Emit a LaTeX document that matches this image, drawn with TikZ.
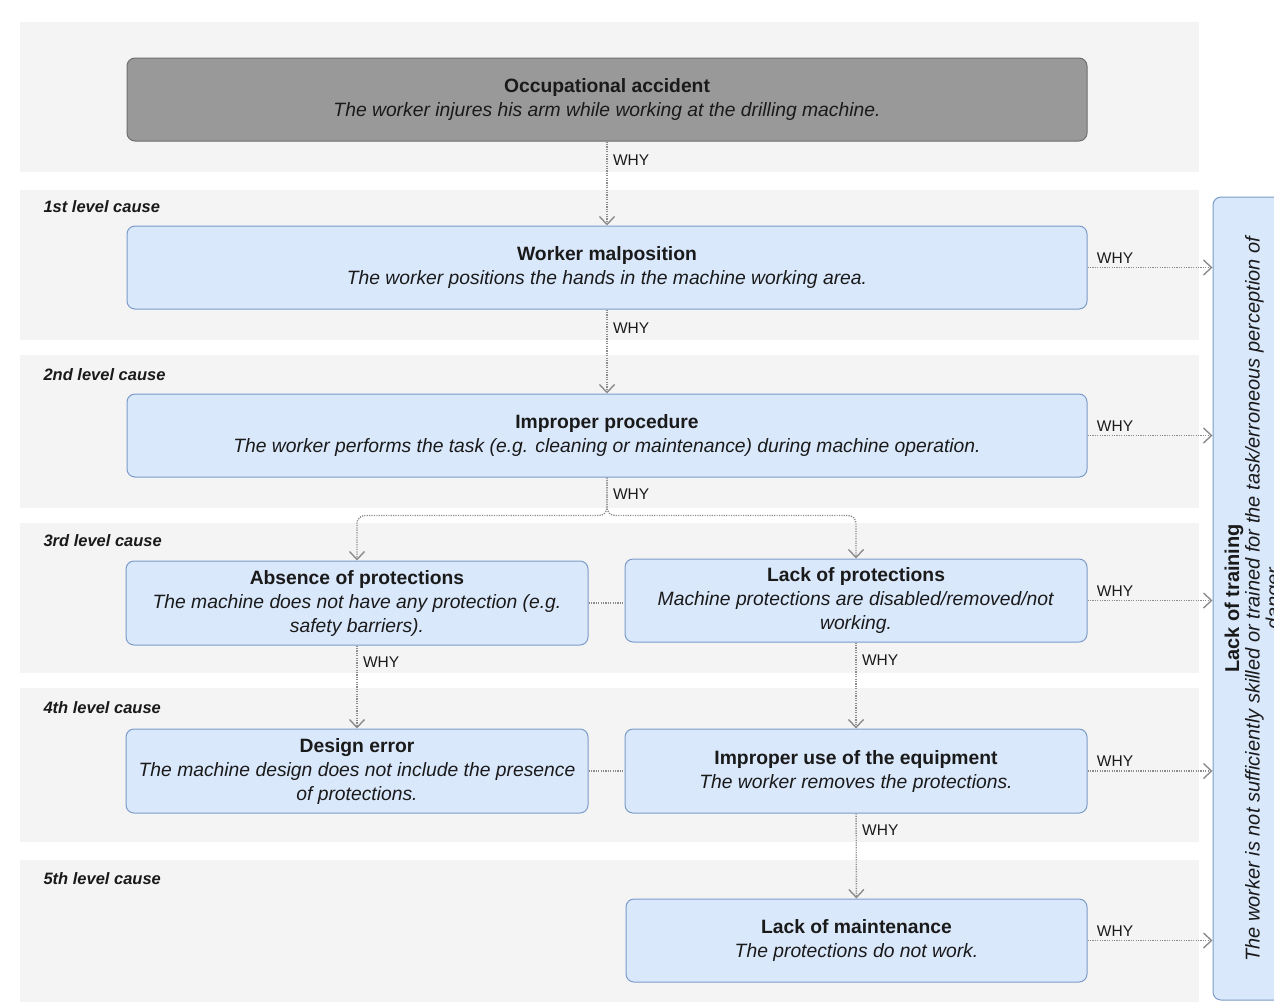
\documentclass[tikz,border=0pt]{standalone}
\usepackage{fontspec}
\setmainfont{Liberation Sans}
\usetikzlibrary{arrows.meta,positioning}
\definecolor{bandgray}{HTML}{F4F4F4}
\definecolor{boxfill}{HTML}{DAE8FC}
\definecolor{boxline}{HTML}{7C9BC9}
\definecolor{topfill}{HTML}{999999}
\definecolor{topline}{HTML}{6E6E6E}
\definecolor{arrowgray}{HTML}{8C8C8C}
\definecolor{inkgray}{HTML}{1A1A1A}
\tikzset{
  causebox/.style={draw=boxline, fill=boxfill, rounded corners=8pt, line width=1pt, align=center, inner sep=0pt, text=inkgray, font=\fontsize{19.3}{24}\selectfont},
  topbox/.style={causebox, draw=topline, fill=topfill},
  whyarrow/.style={draw=arrowgray, line width=1.4pt, dash pattern=on 1.2pt off 1.2pt, -{Straight Barb[length=8pt, width=15pt, line width=1.4pt]}},
  whylink/.style={draw=arrowgray, line width=1.4pt, dash pattern=on 1.2pt off 1.2pt},
  whylabel/.style={font=\fontsize{15.5}{17}\selectfont, text=inkgray},
  levellabel/.style={anchor=west, text=inkgray, font=\fontsize{16.5}{18}\selectfont\bfseries\itshape},
}

\begin{document}
\begin{tikzpicture}[x=1pt, y=-1pt]
    \useasboundingbox (0,0) rectangle (1274,1002);
    \clip (0,0) rectangle (1274,1002);
    % level bands
    \fill[bandgray] (20,22) rectangle (1199,172);
    \fill[bandgray] (20,190) rectangle (1199,340);
    \fill[bandgray] (20,355) rectangle (1199,508);
    \fill[bandgray] (20,523) rectangle (1199,673);
    \fill[bandgray] (20,688) rectangle (1199,842);
    \fill[bandgray] (20,860) rectangle (1199,1002);
    \node[levellabel] (lvl1) at (40,207) {1st level cause};
    \node[levellabel] (lvl2) at (40,375) {2nd level cause};
    \node[levellabel] (lvl3) at (40,541) {3rd level cause};
    \node[levellabel] (lvl4) at (40,708) {4th level cause};
    \node[levellabel] (lvl5) at (40,879) {5th level cause};
    % causes
    \node[topbox, minimum width=960pt, minimum height=83pt] (accident) at (607,99.5) {\textbf{Occupational accident}\\\textit{The worker injures his arm while working at the drilling machine.}};
    \node[causebox, minimum width=960pt, minimum height=83pt] (malpos) at (607,267.5) {\textbf{Worker malposition}\\\textit{The worker positions the hands in the machine working area.}};
    \node[causebox, minimum width=960pt, minimum height=83pt] (proc) at (607,435.5) {\textbf{Improper procedure}\\\textit{The worker performs the task (e.g. cleaning or maintenance) during machine operation.}};
    \node[causebox, minimum width=462pt, minimum height=84pt] (absence) at (357,603) {\textbf{Absence of protections}\\\textit{The machine does not have any protection (e.g.}\\\textit{safety barriers).}};
    \node[causebox, minimum width=462pt, minimum height=83pt] (lackprot) at (856,600.5) {\textbf{Lack of protections}\\\textit{Machine protections are disabled/removed/not}\\\textit{working.}};
    \node[causebox, minimum width=462pt, minimum height=84pt] (design) at (357,771) {\textbf{Design error}\\\textit{The machine design does not include the presence}\\\textit{of protections.}};
    \node[causebox, minimum width=462pt, minimum height=84pt] (misuse) at (856,771) {\textbf{Improper use of the equipment}\\\textit{The worker removes the protections.}};
    \node[causebox, minimum width=461pt, minimum height=83pt] (maint) at (856.5,940.5) {\textbf{Lack of maintenance}\\\textit{The protections do not work.}};
    \node[causebox, rotate=90, minimum width=803pt, minimum height=83pt, font=\fontsize{20}{20.5}\selectfont] (training) at (1254.5,598.5) {\textbf{Lack of training}\\\textit{The worker is not sufficiently skilled or trained for the task/erroneous perception of}\\\textit{danger}};
    % why connectors
    \draw[whyarrow] (accident) -- node[whylabel, right=2pt, pos=0.22] {WHY} (malpos);
    \draw[whyarrow] (malpos) -- node[whylabel, right=2pt, pos=0.22] {WHY} (proc);
    \draw[whyarrow, rounded corners=8pt] (proc.south) -- node[whylabel, right=2pt, pos=0.45] {WHY} ++(0,38) -| (absence.north);
    \draw[whyarrow, rounded corners=8pt] (proc.south) -- ++(0,38) -| (lackprot.north);
    \draw[whylink] (absence.east) -- (absence.east -| lackprot.west);
    \draw[whylink] (design.east) -- (misuse.west);
    \draw[whyarrow] (absence) -- node[whylabel, right=2pt, pos=0.2] {WHY} (design);
    \draw[whyarrow] (lackprot) -- node[whylabel, right=2pt, pos=0.2] {WHY} (misuse);
    \draw[whyarrow] (misuse) -- node[whylabel, right=2pt, pos=0.2] {WHY} (maint);
    \draw[whyarrow] (malpos.east) -- node[whylabel, above, pos=0.22] {WHY} (malpos.east -| training.north);
    \draw[whyarrow] (proc.east) -- node[whylabel, above, pos=0.22] {WHY} (proc.east -| training.north);
    \draw[whyarrow] (lackprot.east) -- node[whylabel, above, pos=0.22] {WHY} (lackprot.east -| training.north);
    \draw[whyarrow] (misuse.east) -- node[whylabel, above, pos=0.22] {WHY} (misuse.east -| training.north);
    \draw[whyarrow] (maint.east) -- node[whylabel, above, pos=0.22] {WHY} (maint.east -| training.north);
\end{tikzpicture}
\end{document}
